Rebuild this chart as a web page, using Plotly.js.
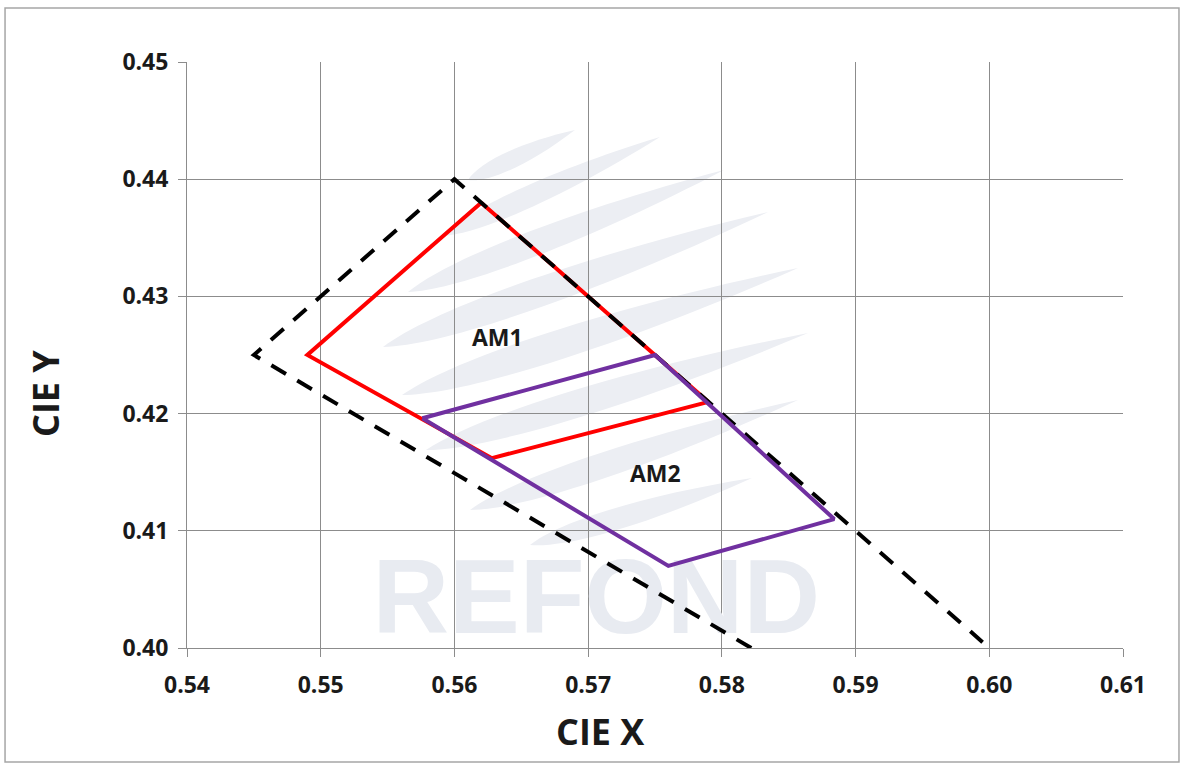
<!DOCTYPE html>
<html>
<head>
<meta charset="utf-8">
<script src="https://cdn.plot.ly/plotly-3.0.1.min.js"></script>
<style>html,body{margin:0;padding:0;background:#fff;}#chart{width:1181px;height:764px;}</style>
</head>
<body>
<div id="chart"></div>
<script>
// Boundary (dashed black)
const boundaryX = [0.5822, 0.545, 0.560, 0.5995];
const boundaryY = [0.400, 0.425, 0.440, 0.4005];
// AM1 bin (red)
const am1X = [0.562, 0.579, 0.5628, 0.549, 0.562];
const am1Y = [0.438, 0.421, 0.4162, 0.425, 0.438];
// AM2 bin (purple)
const am2X = [0.5576, 0.575, 0.5884, 0.576, 0.5576];
const am2Y = [0.4196, 0.425, 0.411, 0.407, 0.4196];
// Labels
const labelText = ["AM1", "AM2"];
const labelX = [0.5632, 0.575];
const labelY = [0.4265, 0.4149];
const xTicks = [0.54, 0.55, 0.56, 0.57, 0.58, 0.59, 0.60, 0.61];
const yTicks = [0.40, 0.41, 0.42, 0.43, 0.44, 0.45];
const xTitle = "CIE X";
const yTitle = "CIE Y";
// Watermark
const watermarkText = ["REFOND"];
const watermarkX = [0.5706];
const watermarkY = [0.4035];

const font = "'Open Sans', 'Liberation Sans', sans-serif";
const W = 1181, H = 764, ML = 187, MR = 58, MT = 62, MB = 116;
const PW = W - ML - MR, PH = H - MT - MB;

// decorative watermark swooshes (pixel geometry: x1,y1,x2,y2,halfwidth)
const swooshes = [
  [468, 180, 575, 130, 9],
  [442, 236, 660, 137, 11],
  [408, 292, 724, 170, 13],
  [383, 347, 768, 212, 15],
  [402, 395, 798, 268, 15],
  [426, 450, 808, 333, 14],
  [470, 510, 798, 400, 13],
  [530, 545, 752, 478, 11]
];
function px(x){ return ((x - ML) / PW).toFixed(4); }
function py(y){ return ((H - MB - y) / PH).toFixed(4); }
const swooshShapes = swooshes.map(s => {
  const [x1, y1, x2, y2, hw] = s;
  const dx = x2 - x1, dy = y2 - y1, L = Math.hypot(dx, dy);
  const nx = -dy / L, ny = dx / L;
  const ax = x1 + dx * 0.15, ay = y1 + dy * 0.15;
  const bx = x1 + dx * 0.55, by = y1 + dy * 0.55;
  const k = hw * 1.3;
  return {
    type: 'path', xref: 'paper', yref: 'paper', layer: 'below',
    path: `M ${px(x1)} ${py(y1)} C ${px(ax + nx * k)} ${py(ay + ny * k)} ${px(bx + nx * k)} ${py(by + ny * k)} ${px(x2)} ${py(y2)} ` +
          `C ${px(bx - nx * k)} ${py(by - ny * k)} ${px(ax - nx * k)} ${py(ay - ny * k)} ${px(x1)} ${py(y1)} Z`,
    fillcolor: '#eceef3', line: {width: 0}
  };
});

const traces = [
  {x: watermarkX, y: watermarkY, type: 'scatter', mode: 'text', text: watermarkText,
   textposition: 'middle center', cliponaxis: false,
   textfont: {family: "'Liberation Sans', Arial, sans-serif", size: 106, color: '#e8ebf1', weight: 'bold'}, hoverinfo: 'skip'},
  {x: am1X, y: am1Y, type: 'scatter', mode: 'lines', line: {color: '#ff0000', width: 4}, hoverinfo: 'skip'},
  {x: boundaryX, y: boundaryY, type: 'scatter', mode: 'lines', line: {color: '#000000', width: 4, dash: '17px,13px'}, hoverinfo: 'skip'},
  {x: am2X, y: am2Y, type: 'scatter', mode: 'lines', line: {color: '#7030a0', width: 4}, hoverinfo: 'skip'}
];

const annotations = labelText.map((t, i) => ({
  x: labelX[i], y: labelY[i], xref: 'x', yref: 'y', text: '<b>' + t + '</b>', showarrow: false,
  font: {family: font, size: 23, color: '#1a1a1a'}
}));
annotations.push({
  x: (600 - ML) / PW, y: (H - MB - 731) / PH, xref: 'paper', yref: 'paper',
  text: '<b>' + xTitle + '</b>', showarrow: false, xanchor: 'center', yanchor: 'middle',
  font: {family: font, size: 36, color: '#1a1a1a'}
});
annotations.push({
  x: (45 - ML) / PW, y: (H - MB - 394) / PH, xref: 'paper', yref: 'paper',
  text: '<b>' + yTitle + '</b>', showarrow: false, textangle: -90, xanchor: 'center', yanchor: 'middle',
  font: {family: font, size: 36, color: '#1a1a1a'}
});

const layout = {
  width: W, height: H,
  margin: {l: ML, r: MR, t: MT, b: MB},
  paper_bgcolor: '#ffffff', plot_bgcolor: '#ffffff',
  showlegend: false,
  xaxis: {
    range: [0.54, 0.61], tickvals: xTicks, ticktext: xTicks.map(v => v.toFixed(2)),
    showgrid: true, gridcolor: '#8c8c8c', gridwidth: 1,
    zeroline: false, showline: true, linecolor: '#8c8c8c', linewidth: 1,
    ticks: 'outside', ticklen: 8, tickcolor: '#8c8c8c', ticklabelstandoff: 8,
    tickfont: {family: font, size: 23, color: '#1a1a1a', weight: 'bold'}
  },
  yaxis: {
    range: [0.40, 0.45], tickvals: yTicks, ticktext: yTicks.map(v => v.toFixed(2)),
    showgrid: true, gridcolor: '#8c8c8c', gridwidth: 1,
    zeroline: false, showline: true, linecolor: '#8c8c8c', linewidth: 1,
    ticks: 'outside', ticklen: 8, tickcolor: '#8c8c8c', ticklabelstandoff: 5,
    tickfont: {family: font, size: 23, color: '#1a1a1a', weight: 'bold'}
  },
  annotations: annotations,
  shapes: [
    {type: 'rect', xref: 'paper', yref: 'paper', x0: -0.1944, x1: 1.0598, y0: -0.1945, y1: 1.0922,
     line: {color: '#a6a6a6', width: 1.5}, layer: 'below'}
  ].concat(swooshShapes)
};

Plotly.newPlot('chart', traces, layout, {displayModeBar: false, staticPlot: true});
</script>
</body>
</html>
